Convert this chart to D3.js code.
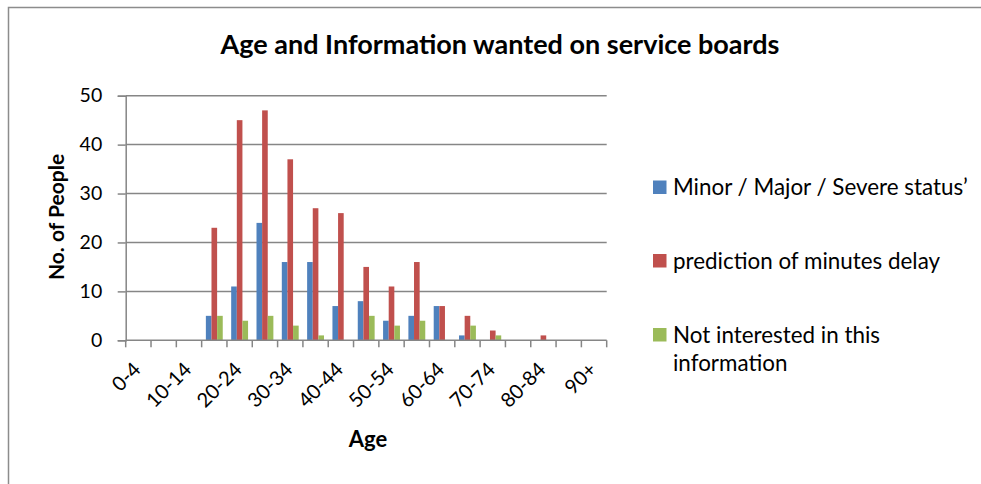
<!DOCTYPE html>
<html>
<head>
<meta charset="utf-8">
<script src="https://cdn.jsdelivr.net/npm/d3@7"></script>
<style>
  html, body { margin: 0; padding: 0; background: #fff; }
  svg { display: block; }
  text { font-family: Lato, "Open Sans", sans-serif; fill: #000; }
</style>
</head>
<body>
<svg id="chart" width="981" height="484"></svg>
<script>
const categories = ["0-4","5-9","10-14","15-19","20-24","25-29","30-34","35-39","40-44","45-49","50-54","55-59","60-64","65-69","70-74","75-79","80-84","85-89","90+"];
const tickLabels = ["0-4","10-14","20-24","30-34","40-44","50-54","60-64","70-74","80-84","90+"];
const seriesNames = ["Minor / Major / Severe status’", "prediction of minutes delay", "Not interested in this information"];
const minorMajorSevere = [0,0,0,5,11,24,16,16,7,8,4,5,7,1,0,0,0,0,0];
const predictionDelay  = [0,0,0,23,45,47,37,27,26,15,11,16,7,5,2,0,1,0,0];
const notInterested    = [0,0,0,5,4,5,3,1,0,5,3,4,0,3,1,0,0,0,0];
const yTicks = [0,10,20,30,40,50];
const colors = ["#4F81BD", "#C0504D", "#9BBB59"];

const series = [minorMajorSevere, predictionDelay, notInterested];
const svg = d3.select("#chart");

// frame
svg.append("path").attr("d", "M8.5,484 V7.5 H981").attr("fill","none").attr("stroke","#8c8c8c").attr("stroke-width",1.5);

const plot = {left: 125.7, right: 606.7, top: 95.7, bottom: 340.3};
const xCat = d3.scaleBand().domain(categories).range([plot.left, plot.right]);
const y = d3.scaleLinear().domain([0,50]).range([plot.bottom, plot.top]);
const xs = d3.scaleBand().domain(d3.range(3)).range([0, xCat.bandwidth()]).paddingInner(0).paddingOuter(0.75);

const gridColor = "#868686";

// gridlines
svg.append("g").selectAll("line").data(yTicks.filter(d => d > 0)).join("line")
  .attr("x1", plot.left).attr("x2", plot.right)
  .attr("y1", d => y(d)).attr("y2", d => y(d))
  .attr("stroke", gridColor).attr("stroke-width", 1.5);

// y axis
const yAxis = d3.axisLeft(y).tickValues(yTicks).tickSize(8).tickPadding(15.5);
const gy = svg.append("g").attr("transform", `translate(${plot.left},0)`).call(yAxis);
gy.select(".domain").attr("stroke", gridColor).attr("stroke-width", 1.5);
gy.selectAll(".tick line").attr("stroke", gridColor).attr("stroke-width", 1.5);
gy.selectAll(".tick text").attr("font-size", 19.5).attr("font-family", "Lato").attr("fill", "#000");

// bars
const groups = svg.append("g").selectAll("g").data(series).join("g").attr("fill", (d,i) => colors[i]);
groups.each(function(vals, si) {
  d3.select(this).selectAll("rect").data(vals.map((v,i) => ({v, c: categories[i]}))).join("rect")
    .attr("x", d => xCat(d.c) + xs(si))
    .attr("width", xs.bandwidth())
    .attr("y", d => y(d.v))
    .attr("height", d => y(0) - y(d.v));
});

// x axis
const gx = svg.append("g").attr("transform", `translate(0,${plot.bottom})`);
gx.append("line").attr("x1", plot.left).attr("x2", plot.right).attr("stroke", gridColor).attr("stroke-width", 1.5);
const boundaries = categories.map(c => xCat(c)).concat([plot.right]);
gx.selectAll("line.tk").data(boundaries).join("line").attr("class","tk")
  .attr("x1", d => d).attr("x2", d => d).attr("y1", 0).attr("y2", 7)
  .attr("stroke", gridColor).attr("stroke-width", 1.5);
gx.selectAll("text").data(tickLabels).join("text")
  .attr("transform", d => `translate(${xCat(d) + xCat.bandwidth()/2 + 3.6},${30.5}) rotate(-45)`)
  .attr("text-anchor", "end")
  .attr("font-size", 20)
  .text(d => d);

// titles
svg.append("text").attr("x", 500).attr("y", 54).attr("text-anchor","middle")
  .attr("font-size", 27).attr("font-weight","bold").text("Age and Information wanted on service boards");
svg.append("text").attr("x", 368).attr("y", 447).attr("text-anchor","middle")
  .attr("font-size", 22).attr("font-weight","bold").text("Age");
svg.append("text").attr("transform", "translate(63.5,217) rotate(-90)").attr("text-anchor","middle")
  .attr("font-size", 21).attr("font-weight","bold").text("No. of People");

// legend
const legendRows = [
  {lines: [seriesNames[0]], y: 195},
  {lines: [seriesNames[1]], y: 268.5},
  {lines: ["Not interested in this", "information"], y: 342.5}
];
const lg = svg.append("g");
legendRows.forEach((r, i) => {
  lg.append("rect").attr("x", 653).attr("y", r.y - 14.5).attr("width", 13.5).attr("height", 13.5).attr("fill", colors[i]);
  const t = lg.append("text").attr("x", 673).attr("y", r.y).attr("font-size", 22.4);
  r.lines.forEach((l, j) => t.append("tspan").attr("x", 673).attr("dy", j === 0 ? 0 : 28.2).text(l));
});
</script>
</body>
</html>
